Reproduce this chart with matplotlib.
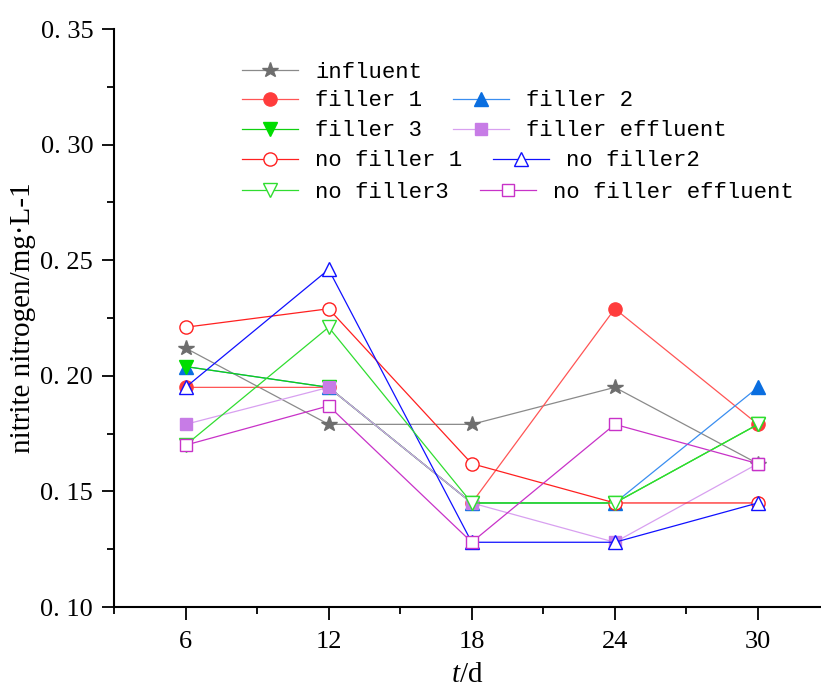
import matplotlib
matplotlib.use("Agg")
import matplotlib.pyplot as plt
from matplotlib.ticker import MultipleLocator, FixedLocator, FixedFormatter

plt.rcParams["mathtext.fontset"] = "custom"
plt.rcParams["mathtext.rm"] = "Liberation Serif"
plt.rcParams["mathtext.it"] = "Liberation Serif:italic"

# Sampling days
days = [6, 12, 18, 24, 30]

# Nitrite nitrogen (mg/L) for each series
influent = [0.212, 0.179, 0.179, 0.195, 0.162]
filler_1 = [0.195, 0.195, 0.145, 0.229, 0.179]
filler_2 = [0.204, 0.195, 0.145, 0.145, 0.195]
filler_3 = [0.204, 0.195, 0.145, 0.145, 0.179]
filler_effluent = [0.179, 0.195, 0.145, 0.128, 0.162]
no_filler_1 = [0.221, 0.229, 0.162, 0.145, 0.145]
no_filler_2 = [0.195, 0.246, 0.128, 0.128, 0.145]
no_filler_3 = [0.170, 0.221, 0.145, 0.145, 0.179]
no_filler_effluent = [0.170, 0.187, 0.128, 0.179, 0.162]

series_names = ["influent", "filler 1", "filler 2", "filler 3", "filler effluent",
                "no filler 1", "no filler2", "no filler3", "no filler effluent"]

y_ticks = [0.10, 0.15, 0.20, 0.25, 0.30, 0.35]
y_tick_labels = ["0. 10", "0. 15", "0. 20", "0. 25", "0. 30", "0. 35"]
x_ticks = [6, 12, 18, 24, 30]
x_tick_labels = ["6", "12", "18", "24", "30"]

W, H = 821, 689
fig = plt.figure(figsize=(W / 100, H / 100), dpi=100)
ax = fig.add_axes([114 / W, 1 - 607 / H, (W - 114) / W, (607 - 29) / H])

ms = 9.5
styles = [
    (influent, dict(color="#8a8a8a", marker="*", ms=ms + 2, mfc="#6e6e6e", mec="#6e6e6e")),
    (filler_1, dict(color="#ff5555", marker="o", ms=ms, mfc="#ff3c3c", mec="#ff3c3c")),
    (filler_2, dict(color="#3a8ef0", marker="^", ms=ms, mfc="#0a6ee0", mec="#0a6ee0")),
    (filler_3, dict(color="#10d010", marker="v", ms=ms, mfc="#00dd00", mec="#00dd00")),
    (filler_effluent, dict(color="#d8a0f0", marker="s", ms=ms - 1, mfc="#c77ce6", mec="#c77ce6")),
    (no_filler_1, dict(color="#ff2020", marker="o", ms=ms, mfc="white", mec="#ff2020")),
    (no_filler_2, dict(color="#1010ff", marker="^", ms=ms, mfc="white", mec="#1010ff")),
    (no_filler_3, dict(color="#30dd30", marker="v", ms=ms, mfc="white", mec="#30dd30")),
    (no_filler_effluent, dict(color="#c832c8", marker="s", ms=ms - 1, mfc="white", mec="#c832c8")),
]

handles = []
for (vals, st), name in zip(styles, series_names):
    (h,) = ax.plot(days, vals, lw=0.9, mew=1.0, label=name, **st)
    handles.append(h)

ax.set_xlim(3, 30 + 63 / 23.83)
ax.set_ylim(0.10, 0.35)

for side in ("top", "right"):
    ax.spines[side].set_visible(False)
for side in ("left", "bottom"):
    ax.spines[side].set_linewidth(1.5)

ax.xaxis.set_major_locator(FixedLocator(x_ticks))
ax.xaxis.set_major_formatter(FixedFormatter(x_tick_labels))
ax.xaxis.set_minor_locator(MultipleLocator(3))
ax.yaxis.set_major_locator(FixedLocator(y_ticks))
ax.yaxis.set_major_formatter(FixedFormatter(y_tick_labels))
ax.yaxis.set_minor_locator(MultipleLocator(0.025))

ax.tick_params(which="major", direction="out", length=9, width=1.3, pad=6,
               labelsize=19)
ax.tick_params(axis="x", which="major", pad=8)
ax.tick_params(which="minor", direction="out", length=5, width=1.3)
for lab in ax.get_xticklabels() + ax.get_yticklabels():
    lab.set_fontfamily("Liberation Serif")

ax.set_ylabel("nitrite nitrogen/mg·L-1", fontfamily="Liberation Serif",
              fontsize=21, labelpad=3)
ax.set_xlabel("$t$/d", fontfamily="Liberation Serif", fontsize=21, labelpad=7)

# Legend laid out row by row
rows = [[0], [1, 2], [3, 4], [5, 6], [7, 8]]
row_y = [72, 101, 131, 161, 192]
legends = []
for idx, yy in zip(rows, row_y):
    leg = fig.legend([handles[i] for i in idx], [series_names[i] for i in idx],
                     loc="center left", bbox_to_anchor=(242 / W, 1 - yy / H),
                     bbox_transform=fig.transFigure, ncol=len(idx), frameon=False,
                     borderpad=0, borderaxespad=0, handlelength=2.52,
                     handletextpad=0.77, columnspacing=1.4, numpoints=1,
                     prop={"family": "Liberation Mono", "size": 16})
    legends.append(leg)

fig.savefig("out.png", dpi=100)
